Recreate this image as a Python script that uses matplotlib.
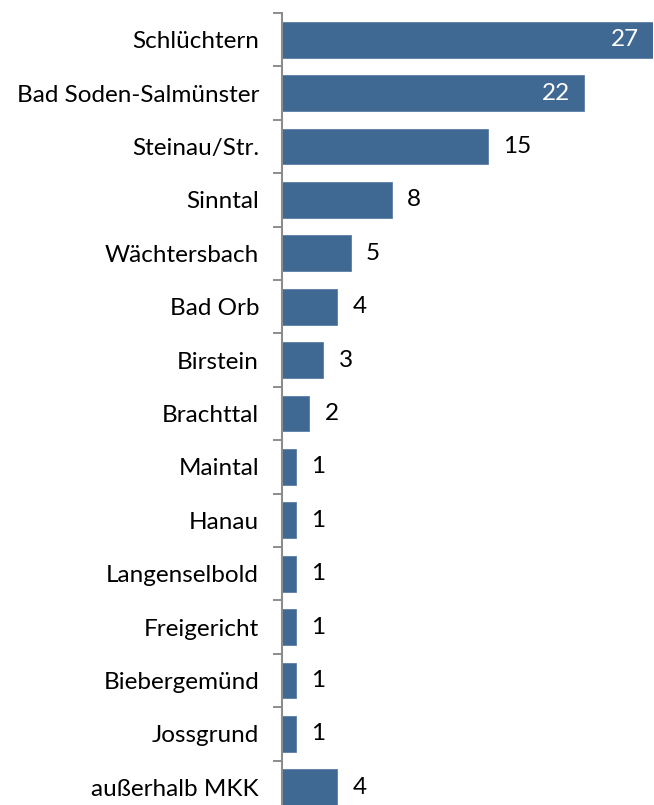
import matplotlib.pyplot as plt
import numpy as np

# Herkunft der Teilnehmer nach Kommune
places = ["Schlüchtern", "Bad Soden-Salmünster", "Steinau/Str.", "Sinntal",
          "Wächtersbach", "Bad Orb", "Birstein", "Brachttal", "Maintal",
          "Hanau", "Langenselbold", "Freigericht", "Biebergemünd",
          "Jossgrund", "außerhalb MKK"]
counts = [27, 22, 15, 8, 5, 4, 3, 2, 1, 1, 1, 1, 1, 1, 4]

bar_color = "#3F6892"
axis_color = "#8C8C8C"

plt.rcParams["font.family"] = ["Lato", "DejaVu Sans"]

fig = plt.figure(figsize=(6.54, 8.05), dpi=100)
ax = fig.add_axes([282 / 654, -9 / 805, 371 / 654, 801 / 805])

y = np.arange(len(places))
ax.barh(y, counts, height=0.67, color=bar_color, edgecolor="#5A7FA6", linewidth=0.6)

ax.set_xlim(0, 27)
ax.set_ylim(len(places) - 0.5, -0.5)

ax.set_yticks(y)
ax.set_yticklabels(places, fontsize=17.5)
ax.set_yticks(np.arange(len(places) + 1) - 0.5, minor=True)
ax.tick_params(axis="y", which="major", length=0, pad=16.5)
ax.tick_params(axis="y", which="minor", length=6.5, width=1.4, color=axis_color)
ax.set_xticks([])

for side in ["top", "right", "bottom"]:
    ax.spines[side].set_visible(False)
ax.spines["left"].set_color(axis_color)
ax.spines["left"].set_linewidth(1.5)

# Werte: innen bei langen Balken, sonst rechts daneben
for yi, v in zip(y, counts):
    if v >= 20:
        ax.annotate(str(v), (v, yi), xytext=(-10, 0), textcoords="offset points",
                    ha="right", va="center", color="white", fontsize=17.5)
    else:
        ax.annotate(str(v), (v, yi), xytext=(11, 0), textcoords="offset points",
                    ha="left", va="center", color="black", fontsize=17.5)

fig.savefig("out.png", dpi=100, facecolor="white")
